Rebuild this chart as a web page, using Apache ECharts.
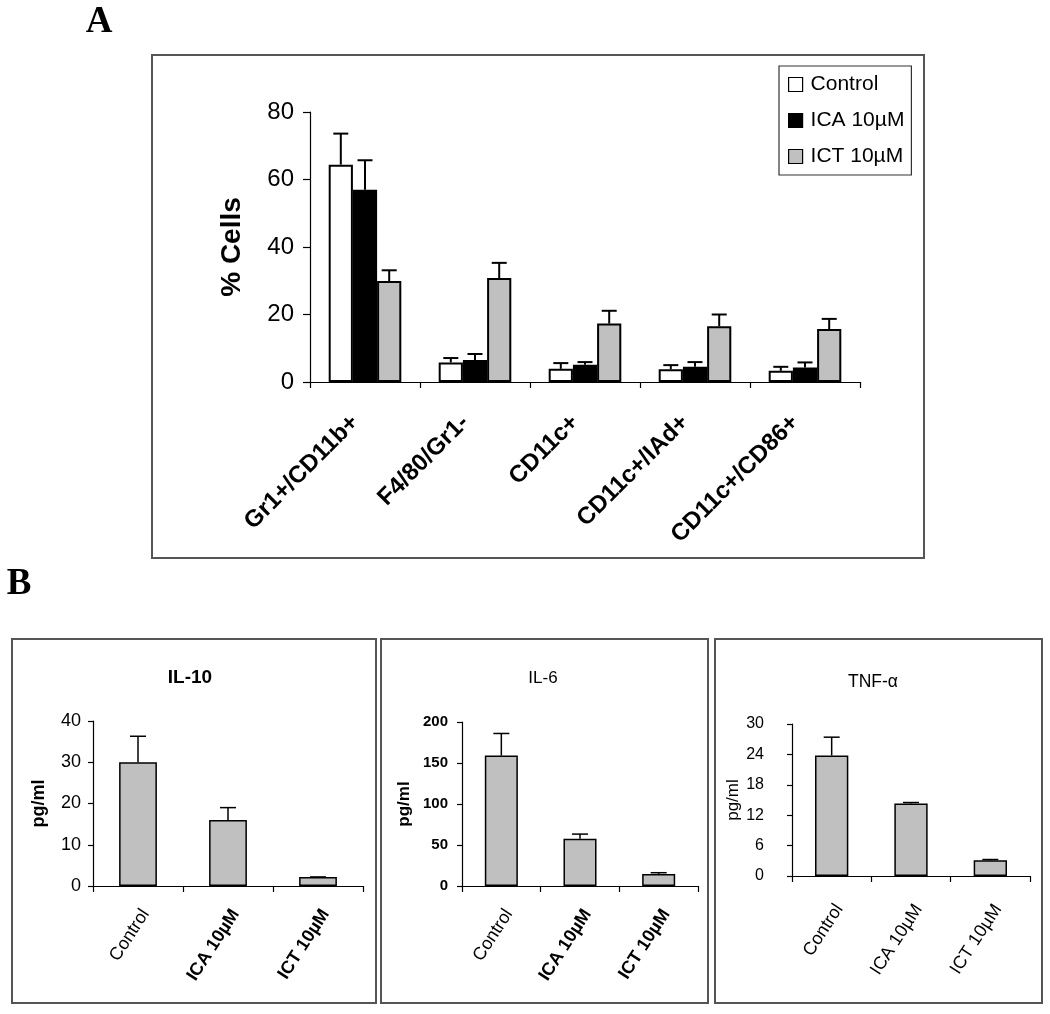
<!DOCTYPE html>
<html>
<head>
<meta charset="utf-8">
<script src="https://cdn.jsdelivr.net/npm/echarts@6/dist/echarts.min.js"></script>
<style>
html,body{margin:0;padding:0;background:#fff;}
#c{width:1050px;height:1014px;}
</style>
</head>
<body>
<div id="c"></div>
<script>
// ---------- Panel A data ----------
const catsA = ['Gr1+/CD11b+', 'F4/80/Gr1-', 'CD11c+', 'CD11c+/IAd+', 'CD11c+/CD86+'];
const seriesNamesA = ['Control', 'ICA 10µM', 'ICT 10µM'];
const controlA = [64.4, 5.8, 3.9, 3.8, 3.3];
const controlErrA = [9.2, 1.3, 1.7, 1.2, 1.2];
const icaA = [57.0, 6.5, 5.1, 4.5, 4.3];
const icaErrA = [8.7, 1.8, 0.8, 1.4, 1.5];
const ictA = [29.9, 30.8, 17.3, 16.5, 15.7];
const ictErrA = [3.2, 4.5, 3.8, 3.5, 3.0];
const ticksA = [0, 20, 40, 60, 80];

// ---------- Panel B data ----------
const catsB = ['Control', 'ICA 10µM', 'ICT 10µM'];
const il10 = [30.0, 16.0, 2.2];
const il10Err = [6.3, 3.0, 0];
const il6 = [159, 57.6, 14.6];
const il6Err = [27, 5.7, 1.6];
const tnf = [23.8, 14.3, 3.1];
const tnfErr = [3.6, 0.2, 0.15];
const ticksIL10 = [0, 10, 20, 30, 40];
const ticksIL6 = [0, 50, 100, 150, 200];
const ticksTNF = [0, 6, 12, 18, 24, 30];

const FONT = '"Liberation Sans", Arial, sans-serif';
const chart = echarts.init(document.getElementById('c'), null, {renderer: 'canvas'});

function errSeries(xi, yi, vals, errs, idx, n, gap, cap, lw) {
  return {
    type: 'custom', xAxisIndex: xi, yAxisIndex: yi, z: 5, silent: true,
    data: vals.map((v, i) => [i, v, errs[i]]),
    renderItem: (params, api) => {
      const c = api.value(0), v = api.value(1), e = api.value(2);
      const band = api.size([1, 0])[0];
      const bw = band * (1 - gap) / n;
      const off = (idx - (n - 1) / 2) * bw;
      const p0 = api.coord([c, v]);
      const p1 = api.coord([c, v + e]);
      const x = p0[0] + off;
      return {
        type: 'group', children: [
          {type: 'line', shape: {x1: x, y1: p0[1], x2: x, y2: p1[1]}, style: {stroke: '#000', lineWidth: lw}},
          {type: 'line', shape: {x1: x - cap, y1: p1[1], x2: x + cap, y2: p1[1]}, style: {stroke: '#000', lineWidth: lw}}
        ]
      };
    }
  };
}

function yAx(gi, ticks, name, nameGap, fs, bold, nameFs, nameBold, margin, tickLen) {
  return {
    type: 'value', gridIndex: gi, min: ticks[0], max: ticks[ticks.length - 1],
    interval: ticks[1] - ticks[0],
    name: name, nameLocation: 'middle', nameGap: nameGap, nameRotate: 90,
    nameTextStyle: {fontFamily: FONT, fontSize: nameFs, fontWeight: nameBold ? 'bold' : 'normal', color: '#000'},
    axisLine: {show: true, lineStyle: {color: '#000', width: 1.2}},
    axisTick: {show: true, length: tickLen, lineStyle: {color: '#000', width: 1.2}},
    axisLabel: {fontFamily: FONT, fontSize: fs, fontWeight: bold ? 'bold' : 'normal', color: '#000', margin: margin},
    splitLine: {show: false}
  };
}

function xAx(gi, cats, fs, rot, margin, vAlign, pad, boldFn) {
  return {
    type: 'category', gridIndex: gi, data: cats,
    axisLine: {show: true, lineStyle: {color: '#000', width: 1.2}},
    axisTick: {show: true, length: 6, alignWithLabel: false, lineStyle: {color: '#000', width: 1.2}},
    axisLabel: {
      interval: 0, rotate: rot, margin: margin, verticalAlign: vAlign, padding: pad,
      color: '#000', fontFamily: FONT, fontSize: fs,
      fontWeight: 'normal',
      formatter: (v) => boldFn(v) ? '{b|' + v + '}' : '{n|' + v + '}',
      rich: {
        b: {fontFamily: FONT, fontSize: fs, fontWeight: 'bold', color: '#000'},
        n: {fontFamily: FONT, fontSize: fs, fontWeight: 'normal', color: '#000'}
      }
    }
  };
}

const barStyle = (c, w) => ({color: c, borderColor: '#000', borderWidth: w});
const gapA = 0.34, gapB = 0.58;

const option = {
  animation: false,
  backgroundColor: '#fff',
  textStyle: {fontFamily: FONT},
  graphic: [
    {type: 'rect', shape: {x: 152, y: 55, width: 772, height: 503}, style: {fill: 'none', stroke: '#555', lineWidth: 2}},
    {type: 'rect', shape: {x: 12, y: 639, width: 364, height: 364}, style: {fill: 'none', stroke: '#555', lineWidth: 2}},
    {type: 'rect', shape: {x: 381, y: 639, width: 327, height: 364}, style: {fill: 'none', stroke: '#555', lineWidth: 2}},
    {type: 'rect', shape: {x: 715, y: 639, width: 327, height: 364}, style: {fill: 'none', stroke: '#555', lineWidth: 2}},
    {type: 'text', x: 99, y: 22, style: {text: 'A', font: 'bold 37px "Liberation Serif", serif', fill: '#000', textAlign: 'center', textVerticalAlign: 'middle'}},
    {type: 'text', x: 19, y: 584, style: {text: 'B', font: 'bold 37px "Liberation Serif", serif', fill: '#000', textAlign: 'center', textVerticalAlign: 'middle'}},
    {type: 'text', x: 190, y: 678, style: {text: 'IL-10', font: 'bold 19px "Liberation Sans", Arial', fill: '#000', textAlign: 'center', textVerticalAlign: 'middle'}},
    {type: 'text', x: 543, y: 678, style: {text: 'IL-6', font: '17px "Liberation Sans", Arial', fill: '#000', textAlign: 'center', textVerticalAlign: 'middle'}},
    {type: 'text', x: 873, y: 682, style: {text: 'TNF-α', font: '17.5px "Liberation Sans", Arial', fill: '#000', textAlign: 'center', textVerticalAlign: 'middle'}}
  ],
  legend: {
    data: seriesNamesA, orient: 'vertical', left: 779, top: 66,
    backgroundColor: '#fff',
    borderColor: '#333', borderWidth: 1.2, padding: [8, 7, 8, 9],
    itemWidth: 14, itemHeight: 14, itemGap: 15, icon: 'rect',
    itemStyle: {borderColor: '#000', borderWidth: 1.2},
    textStyle: {fontFamily: FONT, fontSize: 21, color: '#000', lineHeight: 21, padding: [0, 0, 0, 3]}
  },
  grid: [
    {left: 310, top: 112, width: 550, height: 270},
    {left: 93, top: 721, width: 270, height: 165},
    {left: 462, top: 722, width: 236, height: 164},
    {left: 792, top: 724, width: 238, height: 152}
  ],
  xAxis: [
    xAx(0, catsA, 24, 45, 27, 'middle', [0, 14, 0, 0], () => true),
    xAx(1, catsB, 18, 57, 20, 'top', 0, (v) => v !== 'Control'),
    xAx(2, catsB, 18, 57, 20, 'top', 0, (v) => v !== 'Control'),
    xAx(3, catsB, 18, 57, 25, 'top', 0, () => false)
  ],
  yAxis: [
    yAx(0, ticksA, '% Cells', 64, 24, false, 28, true, 16, 7),
    yAx(1, ticksIL10, 'pg/ml', 45, 18, false, 18, true, 12, 5),
    yAx(2, ticksIL6, 'pg/ml', 49, 15, true, 17, true, 14, 5),
    yAx(3, ticksTNF, 'pg/ml', 35, 16, false, 17, false, 28, 5)
  ],
  series: [
    {name: 'Control', type: 'bar', xAxisIndex: 0, yAxisIndex: 0, data: controlA, barGap: '0%', barCategoryGap: (gapA * 100) + '%', itemStyle: barStyle('#ffffff', 2)},
    {name: 'ICA 10µM', type: 'bar', xAxisIndex: 0, yAxisIndex: 0, data: icaA, barGap: '0%', barCategoryGap: (gapA * 100) + '%', itemStyle: barStyle('#000000', 2)},
    {name: 'ICT 10µM', type: 'bar', xAxisIndex: 0, yAxisIndex: 0, data: ictA, barGap: '0%', barCategoryGap: (gapA * 100) + '%', itemStyle: barStyle('#c0c0c0', 2)},
    errSeries(0, 0, controlA, controlErrA, 0, 3, gapA, 7.5, 2),
    errSeries(0, 0, icaA, icaErrA, 1, 3, gapA, 7.5, 2),
    errSeries(0, 0, ictA, ictErrA, 2, 3, gapA, 7.5, 2),

    {type: 'bar', xAxisIndex: 1, yAxisIndex: 1, data: il10, barCategoryGap: (gapB * 100) + '%', itemStyle: barStyle('#c0c0c0', 1.5)},
    errSeries(1, 1, il10, il10Err, 0, 1, gapB, 8, 1.5),
    {type: 'bar', xAxisIndex: 2, yAxisIndex: 2, data: il6, barCategoryGap: (gapB * 100) + '%', itemStyle: barStyle('#c0c0c0', 1.5)},
    errSeries(2, 2, il6, il6Err, 0, 1, gapB, 8, 1.5),
    {type: 'bar', xAxisIndex: 3, yAxisIndex: 3, data: tnf, barCategoryGap: (gapB * 100) + '%', itemStyle: barStyle('#c0c0c0', 1.5)},
    errSeries(3, 3, tnf, tnfErr, 0, 1, gapB, 8, 1.5)
  ]
};
chart.setOption(option);
</script>
</body>
</html>
